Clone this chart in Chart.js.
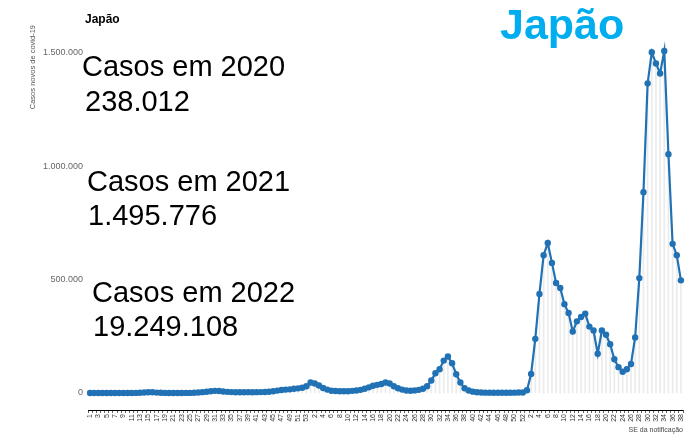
<!DOCTYPE html>
<html><head><meta charset="utf-8">
<script src="https://cdn.jsdelivr.net/npm/chart.js@4/dist/chart.umd.min.js"></script>
<style>html,body{margin:0;padding:0;background:#fff;}#wrap{width:700px;height:435px;position:relative;}</style>
</head><body><div id="wrap"><canvas id="c" width="700" height="435"></canvas></div>
<script>
const weeks2020 = [1,2,3,4,5,6,7,8,9,10,11,12,13,14,15,16,17,18,19,20,21,22,23,24,25,26,27,28,29,30,31,32,33,34,35,36,37,38,39,40,41,42,43,44,45,46,47,48,49,50,51,52,53];
const weeks2021 = [1,2,3,4,5,6,7,8,9,10,11,12,13,14,15,16,17,18,19,20,21,22,23,24,25,26,27,28,29,30,31,32,33,34,35,36,37,38,39,40,41,42,43,44,45,46,47,48,49,50,51,52];
const weeks2022 = [1,2,3,4,5,6,7,8,9,10,11,12,13,14,15,16,17,18,19,20,21,22,23,24,25,26,27,28,29,30,31,32,33,34,35,36,37,38];

const cases2020 = [0,0,0,10,20,40,80,130,150,250,300,350,1000,2500,3500,3000,1800,1000,350,200,200,250,300,350,500,1400,2500,3800,5600,8000,9500,8500,6800,5000,4000,3500,3500,3600,3800,3600,3700,4000,4500,5500,8000,10500,13500,15000,16000,18500,20500,23000,30000];
const cases2021 = [46000,42000,33000,22000,15000,10000,8500,7500,7500,8000,9500,11000,14000,19000,25000,32000,36000,40000,46000,42000,30000,21000,15000,11000,10000,11500,14000,19000,30000,55000,87000,105000,143000,161000,131000,83000,46000,21000,11000,6000,3500,2000,1500,1500,1200,1000,1000,1000,1200,1500,2000,2500];
const cases2022 = [12000,84000,239000,437000,608000,662000,574000,485000,463000,392000,353000,271000,316000,335000,350000,293000,276000,173000,276000,257000,215000,149000,114000,94000,105000,128000,245000,507000,886000,1366000,1503000,1454000,1410000,1509000,1053000,658000,608000,497000];

const yTickValues = [0, 500000, 1000000, 1500000];
const yearNotes = [
  ["Casos em 2020", "238.012"],
  ["Casos em 2021", "1.495.776"],
  ["Casos em 2022", "19.249.108"]
];
const titleText = "Japão";
const yTitle = "Casos novos de covid-19";
const xTitle = "SE da notificação";

const labels = [...weeks2020, ...weeks2021, ...weeks2022].map(String);
const values = [...cases2020, ...cases2021, ...cases2022];

function fmt(v){ return String(v).replace(/\B(?=(\d{3})+(?!\d))/g, '.'); }

const textPlugin = {
  id: 'texts',
  afterDraw(chart){
    const ctx = chart.ctx;
    ctx.save();
    ctx.fillStyle = '#000';
    ctx.font = 'bold 12px "Liberation Sans", Arial, sans-serif';
    ctx.textBaseline = 'alphabetic';
    ctx.textAlign = 'left';
    ctx.fillText(titleText, 85, 23);
    ctx.fillStyle = '#00AEEF';
    ctx.font = 'bold 43px "Liberation Sans", Arial, sans-serif';
    ctx.fillText(titleText, 500, 39);
    ctx.fillStyle = '#000';
    ctx.font = '29px "Liberation Sans", Arial, sans-serif';
    const pos = [[82, 76, 85, 111], [87, 191, 88, 225], [92, 302, 93, 336]];
    yearNotes.forEach((n, i) => {
      const p = pos[i];
      ctx.fillText(n[0], p[0], p[1]);
      ctx.fillText(n[1], p[2], p[3]);
    });
    ctx.fillStyle = '#555';
    ctx.font = '7.5px "Liberation Sans", Arial, sans-serif';
    ctx.translate(35, 25);
    ctx.rotate(-Math.PI/2);
    ctx.textAlign = 'right';
    ctx.fillText(yTitle, 0, 0);
    ctx.restore();
    ctx.save();
    ctx.fillStyle = '#444';
    ctx.font = '7px "Liberation Sans", Arial, sans-serif';
    ctx.textAlign = 'right';
    ctx.fillText(xTitle, 683, 432);
    ctx.restore();
  }
};

new Chart(document.getElementById('c'), {
  data: {
    labels: labels,
    datasets: [
      { type: 'line', data: values, borderColor: '#2171b5', backgroundColor: '#2171b5', borderWidth: 2.2, pointRadius: 3.2, pointHoverRadius: 3.2, pointBorderWidth: 0, tension: 0, order: 0 },
      { type: 'bar', data: values, backgroundColor: '#ebebeb', barThickness: 1, order: 1 }
    ]
  },
  options: {
    responsive: false,
    animation: false,
    plugins: { legend: { display: false }, tooltip: { enabled: false } },
    layout: { padding: { top: 36, right: 17, left: 0, bottom: 0 } },
    scales: {
      x: {
        type: 'category',
        offset: true,
        grid: { display: true, drawOnChartArea: false, drawTicks: true, tickLength: 3, color: '#000', lineWidth: 0.6 },
        border: { display: true, color: '#000', width: 1 },
        ticks: {
          autoSkip: false, maxRotation: 90, minRotation: 90, padding: 1,
          font: { size: 7, family: '"Liberation Sans", Arial, sans-serif' }, color: '#333',
          callback: (v, i) => (i % 2 === 0 ? labels[i] : '')
        },
        afterFit: (s) => { s.height = 25; }
      },
      y: {
        min: -75000, max: 1575000,
        afterBuildTicks: (s) => { s.ticks = yTickValues.map(v => ({ value: v })); },
        grid: { display: false, drawTicks: false },
        border: { display: false },
        ticks: { padding: 5, font: { size: 9, family: '"Liberation Sans", Arial, sans-serif' }, color: '#666', callback: (v) => fmt(v) },
        afterFit: (s) => { s.width = 88; }
      }
    }
  },
  plugins: [textPlugin]
});
</script>
</body></html>
